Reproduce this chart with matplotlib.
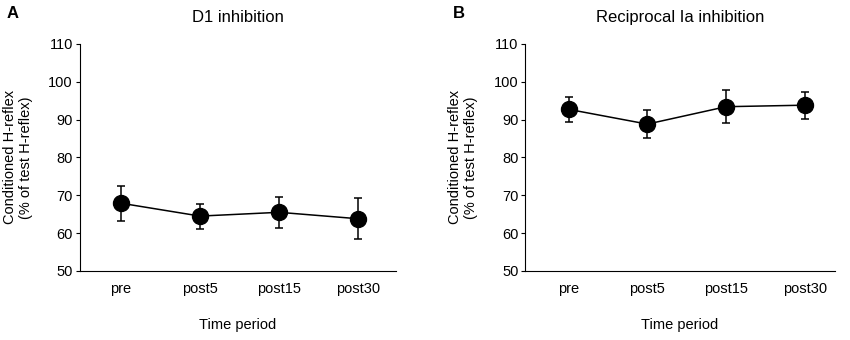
import numpy as np
import matplotlib.pyplot as plt

plt.rcParams['font.family'] = ['Liberation Sans', 'DejaVu Sans']

periods = ['pre', 'post5', 'post15', 'post30']

# D1 inhibition
d1_mean = [67.9, 64.5, 65.5, 63.8]
d1_err = [4.6, 3.3, 4.1, 5.4]

# reciprocal Ia inhibition
ia_mean = [92.7, 88.8, 93.4, 93.8]
ia_err = [3.3, 3.6, 4.3, 3.6]

fig = plt.figure(figsize=(8.5, 3.4), dpi=100)
axA = fig.add_axes([0.094, 0.203, 0.372, 0.668])
axB = fig.add_axes([0.618, 0.203, 0.364, 0.668])

panels = [
    (axA, d1_mean, d1_err, 'D1 inhibition', 'A', (-0.52, 3.48)),
    (axB, ia_mean, ia_err, 'Reciprocal Ia inhibition', 'B', (-0.55, 3.38)),
]

for ax, m, e, title, letter, xl in panels:
    x = np.arange(len(periods))
    ax.errorbar(x, m, yerr=e, fmt='o-', color='black', ms=11.5, lw=1.1,
                elinewidth=1.1, capsize=3, capthick=1.1)
    ax.set_xlim(*xl)
    ax.set_ylim(50, 110)
    ax.set_yticks(range(50, 111, 10))
    ax.set_xticks(x)
    ax.set_xticklabels(periods, fontsize=10.5)
    ax.tick_params(axis='x', length=0, pad=8)
    ax.tick_params(axis='y', length=3, labelsize=10.5, pad=2)
    ax.spines['top'].set_visible(False)
    ax.spines['right'].set_visible(False)
    ax.set_xlabel('Time period', fontsize=10.5, labelpad=16)
    ax.set_ylabel('Conditioned H-reflex\n(% of test H-reflex)', fontsize=10.5, labelpad=11)
    ax.set_title(title, fontsize=12, pad=16)

fig.text(0.008, 0.96, 'A', fontsize=12, fontweight='bold', va='center')
fig.text(0.533, 0.96, 'B', fontsize=12, fontweight='bold', va='center')

fig.savefig('out.png', dpi=100)
